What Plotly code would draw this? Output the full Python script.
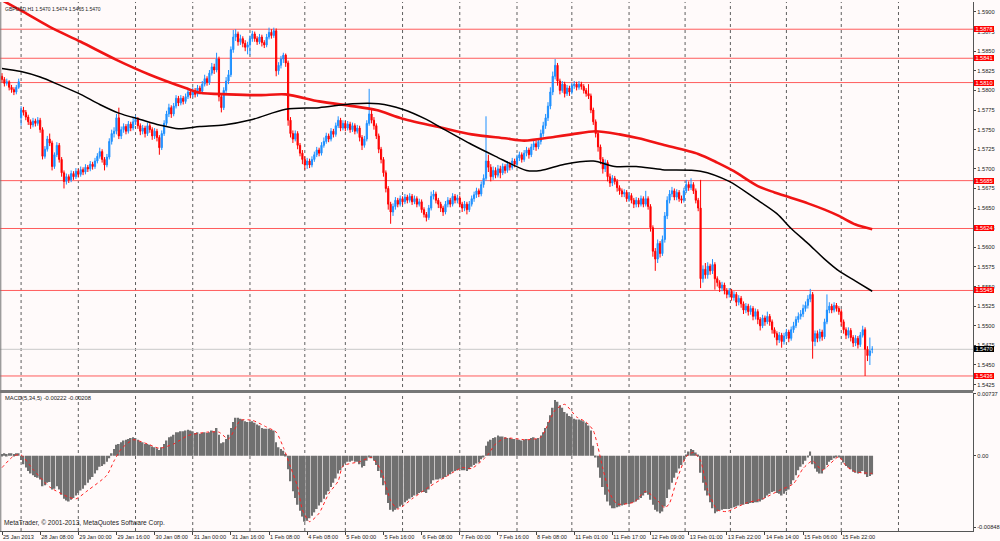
import plotly.graph_objects as go

# GBPUSD H1 candles, one value per hourly bar
opens = [
    1.5818, 1.5814, 1.5809, 1.5811, 1.5804, 1.5801, 1.5798, 1.5804, 1.5765, 1.5775, 1.5772, 1.5766, 1.5760, 1.5756, 1.5761, 1.5758,
    1.5762, 1.5750, 1.5716, 1.5725, 1.5738, 1.5733, 1.5703, 1.5718, 1.5730, 1.5712, 1.5695, 1.5684, 1.5690, 1.5686, 1.5694, 1.5690,
    1.5697, 1.5693, 1.5699, 1.5696, 1.5702, 1.5700, 1.5706, 1.5703, 1.5710, 1.5716, 1.5722, 1.5712, 1.5705, 1.5715, 1.5735, 1.5745,
    1.5748, 1.5765, 1.5742, 1.5750, 1.5754, 1.5748, 1.5757, 1.5752, 1.5760, 1.5763, 1.5755, 1.5748, 1.5752, 1.5745, 1.5755, 1.5750,
    1.5742, 1.5748, 1.5740, 1.5727, 1.5745, 1.5758, 1.5770, 1.5778, 1.5770, 1.5780, 1.5790, 1.5784, 1.5790, 1.5786, 1.5792, 1.5798,
    1.5794, 1.5800, 1.5795, 1.5803, 1.5799, 1.5808, 1.5815, 1.5810, 1.5822, 1.5830, 1.5826, 1.5840, 1.5792, 1.5778, 1.5800, 1.5812,
    1.5820, 1.5852, 1.5868, 1.5872, 1.5862, 1.5866, 1.5860, 1.5855, 1.5858, 1.5866, 1.5872, 1.5866, 1.5862, 1.5868, 1.5861, 1.5858,
    1.5868, 1.5874, 1.5870, 1.5876, 1.5825, 1.5832, 1.5840, 1.5845, 1.5835, 1.5762, 1.5745, 1.5738, 1.5745, 1.5730, 1.5720, 1.5712,
    1.5705, 1.5710, 1.5705, 1.5712, 1.5718, 1.5724, 1.5720, 1.5730, 1.5735, 1.5742, 1.5738, 1.5748, 1.5744, 1.5755, 1.5762, 1.5752,
    1.5758, 1.5752, 1.5757, 1.5750, 1.5755, 1.5748, 1.5752, 1.5740, 1.5730, 1.5738, 1.5758, 1.5770, 1.5762, 1.5755, 1.5742, 1.5725,
    1.5712, 1.5695, 1.5675, 1.5655, 1.5645, 1.5652, 1.5660, 1.5655, 1.5662, 1.5658, 1.5664, 1.5660, 1.5665, 1.5658, 1.5662, 1.5655,
    1.5658, 1.5648, 1.5642, 1.5638, 1.5650, 1.5665, 1.5668, 1.5660, 1.5655, 1.5650, 1.5645, 1.5655, 1.5660, 1.5655, 1.5665, 1.5660,
    1.5663, 1.5655, 1.5650, 1.5655, 1.5648, 1.5655, 1.5662, 1.5667, 1.5672, 1.5668, 1.5680, 1.5688, 1.5710, 1.5702, 1.5690, 1.5698,
    1.5692, 1.5700, 1.5695, 1.5703, 1.5698, 1.5706, 1.5702, 1.5710, 1.5706, 1.5714, 1.5718, 1.5712, 1.5720, 1.5724, 1.5718, 1.5728,
    1.5732, 1.5728, 1.5735, 1.5745, 1.5755, 1.5765, 1.5780, 1.5798, 1.5818, 1.5832, 1.5812, 1.5800, 1.5808, 1.5796, 1.5803, 1.5798,
    1.5806, 1.5808, 1.5804, 1.5808, 1.5805, 1.5800, 1.5796, 1.5793, 1.5775, 1.5760, 1.5745, 1.5728, 1.5712, 1.5700, 1.5708, 1.5690,
    1.5682, 1.5688, 1.5684, 1.5676, 1.5672, 1.5668, 1.5670, 1.5662, 1.5666, 1.5660, 1.5655, 1.5660, 1.5655, 1.5662, 1.5655, 1.5662,
    1.5652, 1.5625, 1.5595, 1.5585, 1.5605, 1.5592, 1.5610, 1.5640, 1.5660, 1.5668, 1.5672, 1.5664, 1.5670, 1.5662, 1.5660, 1.5672,
    1.5680, 1.5676, 1.5680, 1.5672, 1.5660, 1.5650, 1.5560, 1.5572, 1.5565, 1.5576, 1.5570, 1.5578, 1.5560, 1.5555, 1.5548, 1.5552,
    1.5545, 1.5540, 1.5544, 1.5536, 1.5540, 1.5530, 1.5535, 1.5528, 1.5520, 1.5525, 1.5518, 1.5522, 1.5512, 1.5518, 1.5508, 1.5500,
    1.5510, 1.5505, 1.5512, 1.5505, 1.5495, 1.5490, 1.5482, 1.5488, 1.5480, 1.5487, 1.5492, 1.5484, 1.5495, 1.5500, 1.5508, 1.5512,
    1.5515, 1.5522, 1.5526, 1.5534, 1.5540, 1.5480, 1.5490, 1.5484, 1.5492, 1.5486, 1.5505, 1.5520, 1.5525, 1.5520, 1.5526, 1.5522,
    1.5518, 1.5505, 1.5495, 1.5488, 1.5494, 1.5485, 1.5478, 1.5484, 1.5476, 1.5488, 1.5495, 1.5470, 1.5462, 1.5470,
]
highs = [
    1.5822, 1.5817, 1.5815, 1.5813, 1.5807, 1.5804, 1.5807, 1.5815, 1.5780, 1.5779, 1.5775, 1.5769, 1.5763, 1.5765, 1.5764, 1.5766,
    1.5765, 1.5753, 1.5729, 1.5742, 1.5745, 1.5736, 1.5721, 1.5734, 1.5733, 1.5715, 1.5698, 1.5694, 1.5693, 1.5698, 1.5697, 1.5701,
    1.5700, 1.5703, 1.5702, 1.5706, 1.5705, 1.5710, 1.5709, 1.5714, 1.5720, 1.5727, 1.5725, 1.5715, 1.5719, 1.5739, 1.5750, 1.5753,
    1.5770, 1.5778, 1.5754, 1.5758, 1.5757, 1.5761, 1.5760, 1.5765, 1.5768, 1.5766, 1.5758, 1.5756, 1.5755, 1.5759, 1.5758, 1.5753,
    1.5752, 1.5751, 1.5743, 1.5749, 1.5762, 1.5774, 1.5783, 1.5781, 1.5784, 1.5794, 1.5793, 1.5794, 1.5793, 1.5796, 1.5803, 1.5801,
    1.5804, 1.5803, 1.5807, 1.5806, 1.5812, 1.5820, 1.5818, 1.5826, 1.5835, 1.5834, 1.5848, 1.5843, 1.5796, 1.5804, 1.5817, 1.5826,
    1.5856, 1.5877, 1.5878, 1.5875, 1.5871, 1.5869, 1.5864, 1.5862, 1.5870, 1.5876, 1.5875, 1.5869, 1.5872, 1.5871, 1.5864, 1.5872,
    1.5880, 1.5878, 1.5880, 1.5879, 1.5836, 1.5844, 1.5848, 1.5847, 1.5838, 1.5766, 1.5749, 1.5749, 1.5748, 1.5733, 1.5724, 1.5716,
    1.5714, 1.5713, 1.5716, 1.5722, 1.5728, 1.5727, 1.5734, 1.5740, 1.5746, 1.5745, 1.5752, 1.5751, 1.5759, 1.5767, 1.5765, 1.5762,
    1.5761, 1.5761, 1.5760, 1.5759, 1.5758, 1.5756, 1.5755, 1.5743, 1.5742, 1.5762, 1.5802, 1.5776, 1.5766, 1.5758, 1.5745, 1.5728,
    1.5715, 1.5698, 1.5678, 1.5658, 1.5656, 1.5664, 1.5663, 1.5666, 1.5665, 1.5668, 1.5667, 1.5669, 1.5668, 1.5666, 1.5665, 1.5662,
    1.5661, 1.5651, 1.5645, 1.5654, 1.5671, 1.5673, 1.5671, 1.5663, 1.5658, 1.5653, 1.5659, 1.5664, 1.5663, 1.5669, 1.5668, 1.5667,
    1.5666, 1.5658, 1.5659, 1.5658, 1.5659, 1.5666, 1.5671, 1.5676, 1.5675, 1.5684, 1.5693, 1.5767, 1.5718, 1.5706, 1.5703, 1.5702,
    1.5705, 1.5704, 1.5707, 1.5706, 1.5710, 1.5709, 1.5714, 1.5713, 1.5718, 1.5722, 1.5721, 1.5724, 1.5728, 1.5727, 1.5732, 1.5737,
    1.5736, 1.5739, 1.5750, 1.5760, 1.5770, 1.5785, 1.5804, 1.5824, 1.5840, 1.5835, 1.5815, 1.5812, 1.5811, 1.5807, 1.5806, 1.5810,
    1.5812, 1.5811, 1.5812, 1.5811, 1.5808, 1.5803, 1.5808, 1.5796, 1.5778, 1.5763, 1.5748, 1.5731, 1.5715, 1.5712, 1.5711, 1.5694,
    1.5692, 1.5691, 1.5687, 1.5679, 1.5675, 1.5674, 1.5673, 1.5670, 1.5669, 1.5663, 1.5664, 1.5663, 1.5666, 1.5665, 1.5672, 1.5665,
    1.5655, 1.5628, 1.5599, 1.5610, 1.5608, 1.5615, 1.5645, 1.5665, 1.5673, 1.5677, 1.5675, 1.5674, 1.5673, 1.5666, 1.5676, 1.5686,
    1.5684, 1.5688, 1.5683, 1.5675, 1.5663, 1.5686, 1.5577, 1.5580, 1.5581, 1.5579, 1.5585, 1.5581, 1.5563, 1.5558, 1.5556, 1.5555,
    1.5548, 1.5548, 1.5547, 1.5544, 1.5543, 1.5539, 1.5538, 1.5531, 1.5529, 1.5528, 1.5526, 1.5525, 1.5522, 1.5521, 1.5511, 1.5514,
    1.5513, 1.5518, 1.5515, 1.5508, 1.5498, 1.5493, 1.5492, 1.5491, 1.5491, 1.5496, 1.5495, 1.5499, 1.5505, 1.5512, 1.5517, 1.5520,
    1.5527, 1.5531, 1.5539, 1.5547, 1.5543, 1.5494, 1.5494, 1.5496, 1.5495, 1.5509, 1.5540, 1.5530, 1.5528, 1.5530, 1.5529, 1.5525,
    1.5521, 1.5508, 1.5498, 1.5498, 1.5497, 1.5488, 1.5488, 1.5487, 1.5492, 1.5500, 1.5498, 1.5474, 1.5485, 1.5474,
]
lows = [
    1.5810, 1.5805, 1.5806, 1.5800, 1.5797, 1.5794, 1.5795, 1.5802, 1.5755, 1.5768, 1.5762, 1.5756, 1.5751, 1.5753, 1.5754, 1.5755,
    1.5746, 1.5712, 1.5713, 1.5722, 1.5729, 1.5698, 1.5700, 1.5715, 1.5708, 1.5690, 1.5675, 1.5680, 1.5682, 1.5683, 1.5686, 1.5687,
    1.5689, 1.5690, 1.5692, 1.5693, 1.5696, 1.5697, 1.5699, 1.5700, 1.5707, 1.5713, 1.5708, 1.5698, 1.5702, 1.5712, 1.5731, 1.5740,
    1.5744, 1.5738, 1.5738, 1.5746, 1.5744, 1.5745, 1.5748, 1.5749, 1.5756, 1.5751, 1.5743, 1.5744, 1.5740, 1.5742, 1.5746, 1.5737,
    1.5738, 1.5735, 1.5718, 1.5724, 1.5742, 1.5755, 1.5766, 1.5765, 1.5767, 1.5777, 1.5780, 1.5781, 1.5782, 1.5783, 1.5789, 1.5790,
    1.5791, 1.5791, 1.5792, 1.5795, 1.5796, 1.5805, 1.5806, 1.5807, 1.5819, 1.5821, 1.5823, 1.5786, 1.5772, 1.5775, 1.5797, 1.5808,
    1.5817, 1.5848, 1.5863, 1.5857, 1.5858, 1.5855, 1.5850, 1.5846, 1.5845, 1.5862, 1.5862, 1.5858, 1.5859, 1.5856, 1.5854, 1.5855,
    1.5865, 1.5866, 1.5867, 1.5818, 1.5820, 1.5828, 1.5835, 1.5830, 1.5755, 1.5740, 1.5733, 1.5735, 1.5725, 1.5716, 1.5706, 1.5699,
    1.5700, 1.5701, 1.5702, 1.5709, 1.5715, 1.5716, 1.5717, 1.5727, 1.5732, 1.5734, 1.5735, 1.5740, 1.5741, 1.5752, 1.5748, 1.5749,
    1.5748, 1.5749, 1.5746, 1.5747, 1.5744, 1.5745, 1.5735, 1.5724, 1.5727, 1.5735, 1.5755, 1.5758, 1.5750, 1.5738, 1.5720, 1.5707,
    1.5690, 1.5670, 1.5648, 1.5630, 1.5640, 1.5648, 1.5651, 1.5652, 1.5654, 1.5655, 1.5656, 1.5657, 1.5654, 1.5655, 1.5651, 1.5652,
    1.5644, 1.5638, 1.5633, 1.5635, 1.5647, 1.5661, 1.5656, 1.5650, 1.5645, 1.5640, 1.5642, 1.5651, 1.5651, 1.5652, 1.5656, 1.5656,
    1.5651, 1.5645, 1.5646, 1.5642, 1.5645, 1.5652, 1.5658, 1.5663, 1.5664, 1.5665, 1.5676, 1.5685, 1.5696, 1.5684, 1.5686, 1.5688,
    1.5689, 1.5688, 1.5692, 1.5694, 1.5695, 1.5698, 1.5699, 1.5702, 1.5703, 1.5710, 1.5708, 1.5709, 1.5716, 1.5713, 1.5715, 1.5724,
    1.5723, 1.5725, 1.5731, 1.5741, 1.5751, 1.5761, 1.5776, 1.5794, 1.5814, 1.5806, 1.5795, 1.5797, 1.5791, 1.5793, 1.5793, 1.5795,
    1.5802, 1.5800, 1.5801, 1.5801, 1.5796, 1.5792, 1.5789, 1.5771, 1.5756, 1.5740, 1.5722, 1.5706, 1.5694, 1.5696, 1.5684, 1.5677,
    1.5678, 1.5680, 1.5671, 1.5667, 1.5664, 1.5664, 1.5658, 1.5658, 1.5656, 1.5650, 1.5651, 1.5651, 1.5652, 1.5651, 1.5652, 1.5648,
    1.5620, 1.5588, 1.5570, 1.5580, 1.5587, 1.5589, 1.5606, 1.5636, 1.5656, 1.5664, 1.5660, 1.5660, 1.5658, 1.5656, 1.5657, 1.5669,
    1.5672, 1.5673, 1.5668, 1.5656, 1.5646, 1.5548, 1.5555, 1.5560, 1.5560, 1.5565, 1.5566, 1.5546, 1.5550, 1.5543, 1.5544, 1.5540,
    1.5535, 1.5536, 1.5532, 1.5532, 1.5525, 1.5526, 1.5523, 1.5515, 1.5516, 1.5513, 1.5514, 1.5507, 1.5508, 1.5502, 1.5494, 1.5497,
    1.5500, 1.5502, 1.5500, 1.5490, 1.5485, 1.5475, 1.5478, 1.5472, 1.5476, 1.5483, 1.5479, 1.5481, 1.5491, 1.5497, 1.5504, 1.5508,
    1.5511, 1.5518, 1.5522, 1.5530, 1.5458, 1.5474, 1.5479, 1.5480, 1.5481, 1.5483, 1.5502, 1.5516, 1.5516, 1.5517, 1.5518, 1.5514,
    1.5500, 1.5490, 1.5483, 1.5484, 1.5480, 1.5473, 1.5474, 1.5471, 1.5473, 1.5485, 1.5436, 1.5455, 1.5450, 1.5465,
]
closes = [
    1.5814, 1.5809, 1.5811, 1.5804, 1.5801, 1.5798, 1.5804, 1.5811, 1.5775, 1.5772, 1.5766, 1.5760, 1.5756, 1.5761, 1.5758, 1.5762,
    1.5750, 1.5716, 1.5725, 1.5738, 1.5733, 1.5703, 1.5718, 1.5730, 1.5712, 1.5695, 1.5684, 1.5690, 1.5686, 1.5694, 1.5690, 1.5697,
    1.5693, 1.5699, 1.5696, 1.5702, 1.5700, 1.5706, 1.5703, 1.5710, 1.5716, 1.5722, 1.5712, 1.5705, 1.5715, 1.5735, 1.5745, 1.5748,
    1.5765, 1.5742, 1.5750, 1.5754, 1.5748, 1.5757, 1.5752, 1.5760, 1.5763, 1.5755, 1.5748, 1.5752, 1.5745, 1.5755, 1.5750, 1.5742,
    1.5748, 1.5740, 1.5727, 1.5745, 1.5758, 1.5770, 1.5778, 1.5770, 1.5780, 1.5790, 1.5784, 1.5790, 1.5786, 1.5792, 1.5798, 1.5794,
    1.5800, 1.5795, 1.5803, 1.5799, 1.5808, 1.5815, 1.5810, 1.5822, 1.5830, 1.5826, 1.5840, 1.5792, 1.5778, 1.5800, 1.5812, 1.5820,
    1.5852, 1.5868, 1.5872, 1.5862, 1.5866, 1.5860, 1.5855, 1.5858, 1.5866, 1.5872, 1.5866, 1.5862, 1.5868, 1.5861, 1.5858, 1.5868,
    1.5874, 1.5870, 1.5876, 1.5825, 1.5832, 1.5840, 1.5845, 1.5835, 1.5762, 1.5745, 1.5738, 1.5745, 1.5730, 1.5720, 1.5712, 1.5705,
    1.5710, 1.5705, 1.5712, 1.5718, 1.5724, 1.5720, 1.5730, 1.5735, 1.5742, 1.5738, 1.5748, 1.5744, 1.5755, 1.5762, 1.5752, 1.5758,
    1.5752, 1.5757, 1.5750, 1.5755, 1.5748, 1.5752, 1.5740, 1.5730, 1.5738, 1.5758, 1.5770, 1.5762, 1.5755, 1.5742, 1.5725, 1.5712,
    1.5695, 1.5675, 1.5655, 1.5645, 1.5652, 1.5660, 1.5655, 1.5662, 1.5658, 1.5664, 1.5660, 1.5665, 1.5658, 1.5662, 1.5655, 1.5658,
    1.5648, 1.5642, 1.5638, 1.5650, 1.5665, 1.5668, 1.5660, 1.5655, 1.5650, 1.5645, 1.5655, 1.5660, 1.5655, 1.5665, 1.5660, 1.5663,
    1.5655, 1.5650, 1.5655, 1.5648, 1.5655, 1.5662, 1.5667, 1.5672, 1.5668, 1.5680, 1.5688, 1.5710, 1.5702, 1.5690, 1.5698, 1.5692,
    1.5700, 1.5695, 1.5703, 1.5698, 1.5706, 1.5702, 1.5710, 1.5706, 1.5714, 1.5718, 1.5712, 1.5720, 1.5724, 1.5718, 1.5728, 1.5732,
    1.5728, 1.5735, 1.5745, 1.5755, 1.5765, 1.5780, 1.5798, 1.5818, 1.5832, 1.5812, 1.5800, 1.5808, 1.5796, 1.5803, 1.5798, 1.5806,
    1.5808, 1.5804, 1.5808, 1.5805, 1.5800, 1.5796, 1.5793, 1.5775, 1.5760, 1.5745, 1.5728, 1.5712, 1.5700, 1.5708, 1.5690, 1.5682,
    1.5688, 1.5684, 1.5676, 1.5672, 1.5668, 1.5670, 1.5662, 1.5666, 1.5660, 1.5655, 1.5660, 1.5655, 1.5662, 1.5655, 1.5662, 1.5652,
    1.5625, 1.5595, 1.5585, 1.5605, 1.5592, 1.5610, 1.5640, 1.5660, 1.5668, 1.5672, 1.5664, 1.5670, 1.5662, 1.5660, 1.5672, 1.5680,
    1.5676, 1.5680, 1.5672, 1.5660, 1.5650, 1.5560, 1.5572, 1.5565, 1.5576, 1.5570, 1.5578, 1.5560, 1.5555, 1.5548, 1.5552, 1.5545,
    1.5540, 1.5544, 1.5536, 1.5540, 1.5530, 1.5535, 1.5528, 1.5520, 1.5525, 1.5518, 1.5522, 1.5512, 1.5518, 1.5508, 1.5500, 1.5510,
    1.5505, 1.5512, 1.5505, 1.5495, 1.5490, 1.5482, 1.5488, 1.5480, 1.5487, 1.5492, 1.5484, 1.5495, 1.5500, 1.5508, 1.5512, 1.5515,
    1.5522, 1.5526, 1.5534, 1.5540, 1.5480, 1.5490, 1.5484, 1.5492, 1.5486, 1.5505, 1.5520, 1.5525, 1.5520, 1.5526, 1.5522, 1.5518,
    1.5505, 1.5495, 1.5488, 1.5494, 1.5485, 1.5478, 1.5484, 1.5476, 1.5488, 1.5495, 1.5470, 1.5462, 1.5468, 1.5470,
]

# MACD(5,34,5) main line, drawn as histogram
macd_main = [
    0.0002, 0.0003, 0.0002, 0.0003, 0.0003, 0.0002, 0.0003, 0.0003, -0.0005, -0.0010, -0.0014, -0.0018, -0.0021, -0.0023, -0.0025, -0.0026,
    -0.0028, -0.0036, -0.0035, -0.0032, -0.0031, -0.0040, -0.0039, -0.0036, -0.0040, -0.0046, -0.0051, -0.0053, -0.0054, -0.0052, -0.0050, -0.0047,
    -0.0044, -0.0041, -0.0039, -0.0035, -0.0032, -0.0028, -0.0025, -0.0021, -0.0017, -0.0013, -0.0012, -0.0010, -0.0007, -0.0003, 0.0003, 0.0008,
    0.0013, 0.0014, 0.0016, 0.0018, 0.0019, 0.0020, 0.0021, 0.0022, 0.0021, 0.0019, 0.0017, 0.0016, 0.0014, 0.0014, 0.0013, 0.0011,
    0.0010, 0.0009, 0.0007, 0.0010, 0.0014, 0.0018, 0.0022, 0.0023, 0.0025, 0.0028, 0.0028, 0.0029, 0.0029, 0.0030, 0.0031, 0.0030,
    0.0029, 0.0027, 0.0028, 0.0026, 0.0027, 0.0028, 0.0027, 0.0028, 0.0030, 0.0029, 0.0033, 0.0025, 0.0015, 0.0016, 0.0020, 0.0025,
    0.0033, 0.0040, 0.0045, 0.0045, 0.0044, 0.0043, 0.0041, 0.0040, 0.0040, 0.0041, 0.0039, 0.0037, 0.0036, 0.0033, 0.0032, 0.0032,
    0.0032, 0.0031, 0.0030, 0.0016, 0.0010, 0.0008, 0.0006, 0.0002, -0.0016, -0.0030, -0.0042, -0.0050, -0.0058, -0.0065, -0.0072, -0.0078,
    -0.0077, -0.0074, -0.0071, -0.0067, -0.0063, -0.0059, -0.0055, -0.0051, -0.0046, -0.0042, -0.0037, -0.0032, -0.0027, -0.0021, -0.0017, -0.0013,
    -0.0009, -0.0007, -0.0007, -0.0006, -0.0007, -0.0007, -0.0010, -0.0014, -0.0012, -0.0006, -0.0002, -0.0003, -0.0006, -0.0011, -0.0018, -0.0026,
    -0.0035, -0.0046, -0.0056, -0.0064, -0.0066, -0.0064, -0.0062, -0.0060, -0.0058, -0.0055, -0.0053, -0.0051, -0.0049, -0.0047, -0.0046, -0.0044,
    -0.0043, -0.0043, -0.0044, -0.0040, -0.0033, -0.0029, -0.0028, -0.0028, -0.0027, -0.0027, -0.0025, -0.0023, -0.0022, -0.0019, -0.0018, -0.0017,
    -0.0016, -0.0017, -0.0017, -0.0018, -0.0016, -0.0013, -0.0011, -0.0009, -0.0008, -0.0004, -0.0001, 0.0012, 0.0017, 0.0019, 0.0021, 0.0022,
    0.0024, 0.0023, 0.0023, 0.0022, 0.0021, 0.0021, 0.0020, 0.0020, 0.0019, 0.0019, 0.0018, 0.0019, 0.0020, 0.0019, 0.0021, 0.0022,
    0.0020, 0.0021, 0.0024, 0.0028, 0.0033, 0.0040, 0.0048, 0.0057, 0.0066, 0.0064, 0.0060, 0.0057, 0.0052, 0.0050, 0.0047, 0.0046,
    0.0044, 0.0043, 0.0043, 0.0042, 0.0041, 0.0039, 0.0036, 0.0030, 0.0012, -0.0002, -0.0014, -0.0026, -0.0037, -0.0046, -0.0054, -0.0059,
    -0.0062, -0.0062, -0.0061, -0.0060, -0.0059, -0.0058, -0.0057, -0.0057, -0.0056, -0.0055, -0.0054, -0.0052, -0.0050, -0.0047, -0.0044, -0.0046,
    -0.0052, -0.0058, -0.0064, -0.0066, -0.0068, -0.0066, -0.0060, -0.0050, -0.0040, -0.0032, -0.0026, -0.0020, -0.0015, -0.0011, -0.0006, 0.0001,
    0.0005, 0.0008, 0.0007, 0.0004, 0.0001, -0.0020, -0.0032, -0.0041, -0.0047, -0.0055, -0.0062, -0.0068, -0.0066, -0.0065, -0.0064, -0.0063,
    -0.0063, -0.0063, -0.0062, -0.0061, -0.0060, -0.0059, -0.0058, -0.0058, -0.0057, -0.0057, -0.0056, -0.0056, -0.0055, -0.0055, -0.0054, -0.0052,
    -0.0050, -0.0047, -0.0045, -0.0043, -0.0042, -0.0044, -0.0045, -0.0047, -0.0045, -0.0042, -0.0040, -0.0034, -0.0029, -0.0023, -0.0017, -0.0013,
    -0.0010, -0.0006, -0.0002, 0.0005, -0.0010, -0.0015, -0.0019, -0.0021, -0.0021, -0.0016, -0.0011, -0.0007, -0.0005, -0.0003, -0.0002, -0.0002,
    -0.0004, -0.0008, -0.0012, -0.0014, -0.0016, -0.0019, -0.0020, -0.0021, -0.0020, -0.0018, -0.0022, -0.0025, -0.0024, -0.00222,
]

# MACD signal line (red dots), read at these bars
signal_bars = [0, 5, 8, 13, 20, 28, 31, 36, 44, 47, 50, 55, 61, 66, 72, 78, 86, 91, 95, 100,
               105, 111, 115, 118, 121, 124, 126, 129, 133, 137, 141, 143, 150, 155, 159, 163, 166, 172, 179, 186,
               193, 197, 202, 204, 207, 211, 220, 226, 232, 236, 241, 245, 248, 250, 252, 255, 258, 265, 270, 276,
               278, 280, 283, 287, 290, 293, 296, 300, 304, 312, 319, 326, 332, 336, 340, 344, 351, 354, 358, 365]
signal_vals = [-0.0014, 0.0000, 0.0001, -0.0016, -0.0037, -0.0049, -0.0051, -0.0041, -0.0023, -0.0006,
               0.0008, 0.0019, 0.0014, 0.0009, 0.0014, 0.0024, 0.0028, 0.0028, 0.0020, 0.0042,
               0.0042, 0.0034, 0.0028, 0.0010, -0.0013, -0.0037, -0.0064, -0.0078, -0.0068, -0.0045,
               -0.0030, -0.0012, -0.0007, -0.0002, -0.0017, -0.0053, -0.0063, -0.0051, -0.0037, -0.0025,
               -0.0014, -0.0015, -0.0004, 0.0002, 0.0014, 0.0021, 0.0019, 0.0022, 0.0054, 0.0061,
               0.0046, 0.0040, 0.0030, 0.0010, -0.0015, -0.0045, -0.0057, -0.0055, -0.0042, -0.0056,
               -0.0062, -0.0056, -0.0029, -0.0001, 0.0004, -0.0006, -0.0041, -0.0064, -0.0066, -0.0056,
               -0.0051, -0.0041, -0.0033, -0.0015, -0.0006, -0.0017, -0.0001, -0.0012, -0.0019, -0.00208]

# moving averages (slow red, faster black)
ma_red_bars = [0, 9, 20, 33, 48, 62, 77, 83, 95, 108, 119, 133, 147, 157, 168, 185, 197, 211, 219, 232,
               239, 249, 259, 267, 277, 292, 300, 307, 317, 324, 330, 338, 345, 351, 358, 365]
ma_red_vals = [1.5915, 1.5900, 1.5881, 1.5862, 1.5839, 1.5820, 1.5803, 1.5797, 1.5795, 1.5794,
               1.5795, 1.5786, 1.5780, 1.5775, 1.5764, 1.5752, 1.5744, 1.5739, 1.5736, 1.5741,
               1.5744, 1.5748, 1.5744, 1.5739, 1.5731, 1.5719, 1.5708, 1.5697, 1.5678, 1.5670,
               1.5664, 1.5656, 1.5648, 1.5640, 1.5629, 1.5623]
ma_black_bars = [0, 8, 16, 24, 33, 41, 49, 58, 66, 74, 83, 93, 105, 119, 133, 147, 158, 168, 178, 185,
                 197, 207, 220, 226, 236, 248, 257, 266, 277, 293, 305, 316, 325, 331, 338, 345, 351, 358, 365]
ma_black_vals = [1.5828, 1.5824, 1.5817, 1.5807, 1.5795, 1.5782, 1.5771, 1.5763, 1.5756, 1.5751,
                 1.5754, 1.5756, 1.5763, 1.5776, 1.5778, 1.5783, 1.5783, 1.5776, 1.5763, 1.5751,
                 1.5731, 1.5716, 1.5698, 1.5698, 1.5706, 1.5710, 1.5703, 1.5703, 1.5699, 1.5697,
                 1.5684, 1.5662, 1.5643, 1.5624, 1.5605, 1.5585, 1.5570, 1.5557, 1.5544]

level_prices = [1.5878, 1.5841, 1.5810, 1.5685, 1.5624, 1.5545, 1.5436]
bid_price = 1.5470
price_ticks = [1.5900, 1.5875, 1.5850, 1.5825, 1.5800, 1.5775, 1.5750, 1.5725, 1.5700, 1.5675,
               1.5650, 1.5625, 1.5600, 1.5575, 1.5550, 1.5525, 1.5500, 1.5475, 1.5450, 1.5425]
macd_ticks = [0.00737, 0.0, -0.00848]
macd_ticktext = ["0.00737", "0.00", "-0.00848"]
time_labels = ["25 Jan 2013", "28 Jan 08:00", "29 Jan 00:00", "29 Jan 16:00", "30 Jan 08:00", "31 Jan 00:00",
               "31 Jan 16:00", "1 Feb 08:00", "4 Feb 08:00", "5 Feb 00:00", "5 Feb 16:00", "6 Feb 08:00",
               "7 Feb 00:00", "7 Feb 16:00", "8 Feb 08:00", "11 Feb 01:00", "11 Feb 17:00", "12 Feb 09:00",
               "13 Feb 01:00", "13 Feb 22:00", "14 Feb 14:00", "15 Feb 06:00", "15 Feb 22:00"]
# bars where the dotted vertical separators fall
day_grid = [8, 32, 56, 80, 104, 127, 144, 168, 192, 216, 239, 263, 286.5, 305.5, 329, 352, 376]

FONT = "Liberation Sans, Arial, sans-serif"
BG = "#FFFAFA"
bars = list(range(len(closes)))
X_RANGE = [-0.84, 407.3]
X_RIGHT = 0.977

fig = go.Figure()

fig.add_trace(go.Candlestick(
    x=bars, open=opens, high=highs, low=lows, close=closes,
    increasing=dict(line=dict(color="#1E90FF", width=1), fillcolor="#1E90FF"),
    decreasing=dict(line=dict(color="#FF0000", width=1), fillcolor="#FF0000"),
    whiskerwidth=0, hoverinfo="skip", xaxis="x", yaxis="y",
))
fig.add_trace(go.Scatter(x=ma_red_bars, y=ma_red_vals, mode="lines",
                         line=dict(color="#F01414", width=2.6, shape="spline", smoothing=0.8),
                         hoverinfo="skip", xaxis="x", yaxis="y"))
fig.add_trace(go.Scatter(x=ma_black_bars, y=ma_black_vals, mode="lines",
                         line=dict(color="#000000", width=1.5, shape="spline", smoothing=0.8),
                         hoverinfo="skip", xaxis="x", yaxis="y"))

fig.add_trace(go.Bar(x=bars, y=macd_main, marker=dict(color="#707070", line=dict(width=0)),
                     hoverinfo="skip", xaxis="x2", yaxis="y2"))
fig.add_trace(go.Scatter(x=signal_bars, y=signal_vals, mode="lines",
                         line=dict(color="#FF2020", width=1, dash="dot", shape="spline", smoothing=0.6),
                         hoverinfo="skip", xaxis="x2", yaxis="y2"))

shapes = []
for g in day_grid:
    shapes.append(dict(type="line", xref="x", yref="paper", x0=g, x1=g, y0=0.0185, y1=1,
                       line=dict(color="#5e5e5e", width=1, dash="dot"), layer="below"))
for lv in level_prices:
    shapes.append(dict(type="line", xref="paper", yref="y", x0=0, x1=X_RIGHT, y0=lv, y1=lv,
                       line=dict(color="#FF5C5C", width=1), layer="below"))
shapes.append(dict(type="line", xref="paper", yref="y", x0=0, x1=X_RIGHT, y0=bid_price, y1=bid_price,
                   line=dict(color="#C8C8C8", width=1), layer="below"))
# panel separator and left frame
shapes.append(dict(type="line", xref="paper", yref="paper", x0=0, x1=X_RIGHT, y0=0.2772, y1=0.2772,
                   line=dict(color="#777777", width=3)))
shapes.append(dict(type="line", xref="paper", yref="paper", x0=0.0008, x1=0.0008, y0=0.0185, y1=1,
                   line=dict(color="#777777", width=1)))

annotations = [
    dict(text="GBPUSD,H1 1.5470 1.5474 1.5465 1.5470", xref="paper", yref="paper", x=0.003, y=0.996,
         xanchor="left", yanchor="top", showarrow=False, font=dict(family=FONT, size=5, color="#222222")),
    dict(text="MACD(5,34,5) -0.00222 -0.00208", xref="paper", yref="paper", x=0.003, y=0.266,
         xanchor="left", yanchor="middle", showarrow=False, font=dict(family=FONT, size=5.8, color="#222222")),
    dict(text="MetaTrader, © 2001-2013, MetaQuotes Software Corp.", xref="paper", yref="paper", x=0.002, y=0.034,
         xanchor="left", yanchor="middle", showarrow=False, font=dict(family=FONT, size=6.6, color="#222222")),
]
for lv in level_prices:
    annotations.append(dict(text=f"{lv:.4f}", xref="paper", yref="y", x=0.978, y=lv, xanchor="left",
                            yanchor="middle", showarrow=False, bgcolor="#FF0000", borderpad=0, borderwidth=0,
                            width=20, font=dict(family=FONT, size=5.6, color="#FFFFFF")))
annotations.append(dict(text=f"{bid_price:.4f}", xref="paper", yref="y", x=0.978, y=bid_price, xanchor="left",
                        yanchor="middle", showarrow=False, bgcolor="#000000", borderpad=0, borderwidth=0,
                        width=20, font=dict(family=FONT, size=5.6, color="#FFFFFF")))

tick_font = dict(family=FONT, size=5.7, color="#222222")
fig.update_layout(
    width=1000, height=541, margin=dict(l=0, r=0, t=0, b=0),
    paper_bgcolor=BG, plot_bgcolor=BG, showlegend=False, bargap=0.3,
    shapes=shapes, annotations=annotations, hovermode=False,
    xaxis=dict(domain=[0, X_RIGHT], range=X_RANGE, anchor="y", showticklabels=False, showgrid=False,
               zeroline=False, rangeslider=dict(visible=False), fixedrange=True),
    yaxis=dict(domain=[0.2791, 1], range=[1.54174, 1.59127], side="right", anchor="x",
               tickvals=price_ticks, ticktext=[f"{v:.4f}" for v in price_ticks],
               ticks="outside", ticklen=2, tickcolor="#444444", tickfont=tick_font,
               showgrid=False, zeroline=False, showline=True, linecolor="#555555", linewidth=1, fixedrange=True),
    xaxis2=dict(domain=[0, X_RIGHT], range=X_RANGE, anchor="y2", matches="x",
                tickvals=[16 * k for k in range(len(time_labels))], ticktext=time_labels,
                ticks="outside", ticklen=3, tickcolor="#444444", ticklabelposition="outside right",
                tickangle=0, tickfont=dict(family=FONT, size=5.6, color="#222222"), showgrid=False,
                zeroline=False, showline=True, linecolor="#555555", linewidth=1, fixedrange=True),
    yaxis2=dict(domain=[0.0185, 0.2754], range=[-0.00891, 0.00749], side="right", anchor="x2",
                tickvals=macd_ticks, ticktext=macd_ticktext, ticks="outside", ticklen=2,
                tickcolor="#444444", tickfont=tick_font, showgrid=False, zeroline=False,
                showline=True, linecolor="#555555", linewidth=1, fixedrange=True),
)

# drop the default page margin and clip anything past the 1000x541 figure box,
# so the page is exactly the size of the window
page_css = ("document.documentElement.style.margin='0';document.documentElement.style.padding='0';"
            "document.documentElement.style.overflow='hidden';"
            "document.body.style.margin='0';document.body.style.padding='0';document.body.style.overflow='hidden';"
            "var gd=document.getElementById('{plot_id}');gd.style.overflow='hidden';"
            "gd.parentNode.style.overflow='hidden';gd.parentNode.style.width='1000px';gd.parentNode.style.height='541px';"
            "document.querySelectorAll('.main-svg').forEach(function(s){s.style.overflow='hidden';});")
fig.write_html("out.html", config={"displayModeBar": False}, post_script=page_css)
